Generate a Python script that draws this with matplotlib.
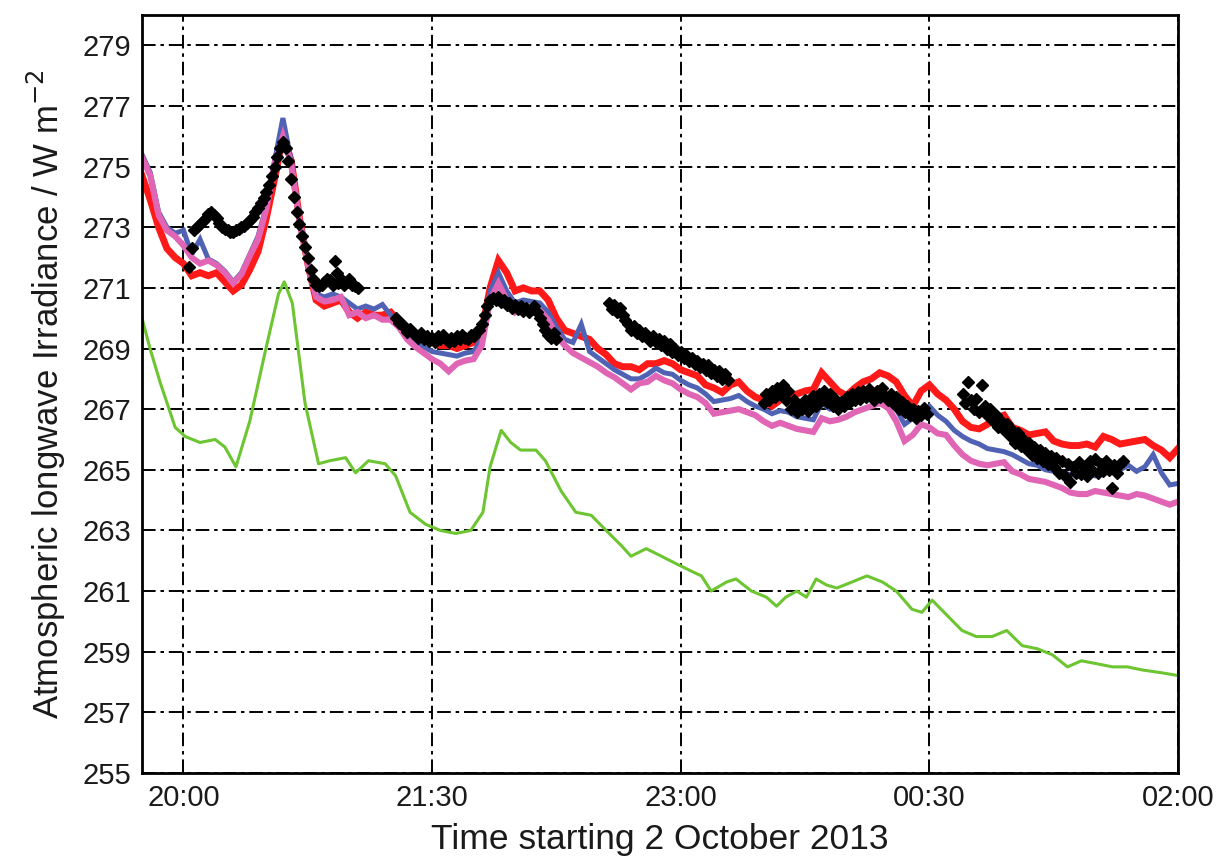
import numpy as np
import matplotlib
matplotlib.use("Agg")
import matplotlib.pyplot as plt

plt.rcParams['font.family'] = ['Liberation Sans', 'DejaVu Sans']

# ---- data (time in minutes after 19:45 on 2 October 2013) ----
x_tick_pos = [15, 105, 195, 285, 375]
x_tick_labels = ["20:00", "21:30", "23:00", "00:30", "02:00"]
y_ticks = [255, 257, 259, 261, 263, 265, 267, 269, 271, 273, 275, 277, 279]

t_lines = list(range(0, 376, 3))

red = [274.7, 273.9, 273.0, 272.3, 272.0, 271.8, 271.4, 271.5, 271.4, 271.5,
       271.2, 270.9, 271.1, 271.6, 272.2, 273.3, 274.6, 276.0, 275.2, 273.3,
       271.8, 270.6, 270.4, 270.5, 270.6, 270.2, 270.0, 270.2, 270.1, 270.1,
       270.2, 269.9, 269.7, 269.4, 269.3, 269.2, 269.1, 269.1, 269.0, 269.1,
       269.2, 269.6, 271.0, 271.9, 271.5, 270.9, 271.0, 270.9, 270.9, 270.6,
       270.0, 269.6, 269.5, 269.4, 269.3, 269.0, 268.8, 268.5, 268.4, 268.4,
       268.3, 268.5, 268.5, 268.6, 268.5, 268.3, 268.2, 268.1, 267.8, 267.7,
       267.55, 267.8, 267.9, 267.6, 267.4, 267.3, 267.1, 267.3, 267.45, 267.5,
       267.6, 267.65, 268.2, 267.9, 267.6, 267.45, 267.7, 267.9, 268.0, 268.2,
       268.1, 267.9, 267.45, 267.1, 267.6, 267.8, 267.5, 267.3, 267.0, 266.6,
       266.4, 266.35, 266.5, 266.7, 266.8, 266.4, 266.3, 266.15, 266.2, 266.25,
       265.95, 265.85, 265.8, 265.8, 265.85, 265.75, 266.1, 266.0, 265.85, 265.9,
       265.95, 266.0, 265.8, 265.65, 265.4, 265.7]

blue = [275.4, 274.8, 273.5, 273.0, 272.8, 272.9, 272.1, 272.6, 271.95, 271.8,
        271.55, 271.2, 271.5, 272.1, 272.7, 273.7, 275.2, 276.6, 275.2, 273.3,
        271.9, 270.8, 270.7, 270.8, 270.7, 270.5, 270.3, 270.4, 270.3, 270.45,
        270.1, 269.9, 269.5, 269.25, 269.05, 268.9, 268.85, 268.8, 268.75, 268.85,
        268.9, 269.3, 270.9, 271.5, 270.9, 270.5, 270.6, 270.55, 270.5, 270.2,
        269.7, 269.3, 269.2, 269.8, 268.9, 268.7, 268.5, 268.3, 268.15, 268.0,
        268.0, 268.15, 268.35, 268.2, 268.15, 267.95, 267.8, 267.7, 267.5, 267.25,
        267.3, 267.35, 267.45, 267.25, 267.1, 267.0, 266.85, 266.95, 266.9, 266.75,
        266.7, 266.65, 267.2, 267.0, 267.05, 267.1, 267.3, 267.4, 267.5, 267.6,
        267.45, 267.0, 266.5, 266.7, 266.9, 267.1, 266.8, 266.6, 266.3, 266.1,
        265.95, 265.85, 265.7, 265.65, 265.6, 265.5, 265.35, 265.2, 265.15, 265.0,
        264.95, 264.9, 264.85, 264.8, 264.85, 264.8, 264.9, 264.95, 265.0, 265.15,
        264.95, 265.1, 265.5, 264.9, 264.5, 264.55]

pink = [275.3, 274.7, 273.4, 272.9, 272.7, 272.4, 272.0, 271.8, 271.9, 271.75,
        271.5, 271.15, 271.45, 272.05, 272.6, 273.6, 275.1, 276.0, 275.1, 273.2,
        271.8, 270.7, 270.55, 270.6, 270.7, 270.1, 270.2, 270.0, 270.1, 269.95,
        269.95, 269.7, 269.3, 269.05, 268.85, 268.65, 268.5, 268.25, 268.5, 268.6,
        268.65, 269.1, 270.6, 271.15, 270.6, 270.2, 270.4, 270.3, 270.25, 269.95,
        269.45, 269.1, 268.85, 268.7, 268.55, 268.4, 268.2, 268.05, 267.85, 267.65,
        267.85, 267.9, 268.1, 267.95, 267.85, 267.65, 267.5, 267.4, 267.2, 266.85,
        266.9, 266.95, 267.0, 266.9, 266.8, 266.6, 266.45, 266.55, 266.45, 266.35,
        266.3, 266.25, 266.7, 266.6, 266.65, 266.75, 266.9, 267.0, 267.1, 267.2,
        267.05, 266.6, 265.95, 266.15, 266.5, 266.4, 266.2, 266.15, 265.8, 265.5,
        265.3, 265.2, 265.15, 265.2, 265.25, 264.95, 264.85, 264.7, 264.65, 264.6,
        264.5, 264.4, 264.25, 264.2, 264.2, 264.3, 264.25, 264.2, 264.15, 264.1,
        264.2, 264.15, 264.05, 263.95, 263.85, 263.95]

t_green = [0, 2.9, 6.5, 12, 15.6, 21, 26.5, 30, 34, 39, 44.6, 49.4, 51.5, 54.4,
           59, 63.9, 68, 73.7, 77.3, 82, 88, 91.8, 97, 102.7, 108, 113.6, 119,
           123.4, 126, 130, 133.5, 137, 142.6, 146, 151.7, 157, 162.6, 168, 173.5,
           177, 182.5, 188, 193.4, 199, 202.5, 206, 211.6, 215, 220.6, 226, 229.7,
           233, 237, 240.5, 244, 247.8, 251.5, 257, 262.4, 268, 273, 278.7, 282.3,
           286, 291.4, 296.8, 302, 307.7, 313, 318.6, 324, 329.5, 335, 340, 345.8,
           351.3, 356.7, 362, 369.4, 375.9]
green = [270.0, 269.0, 267.9, 266.4, 266.1, 265.9, 266.0, 265.75, 265.1, 266.6,
         268.9, 270.8, 271.2, 270.5, 267.2, 265.2, 265.3, 265.4, 264.9, 265.3,
         265.2, 264.8, 263.6, 263.2, 263.0, 262.9, 263.0, 263.6, 265.1, 266.3,
         265.9, 265.65, 265.65, 265.3, 264.3, 263.6, 263.5, 263.0, 262.5, 262.15,
         262.4, 262.15, 261.9, 261.65, 261.5, 261.0, 261.3, 261.4, 261.0, 260.8,
         260.5, 260.8, 261.0, 260.8, 261.4, 261.2, 261.1, 261.3, 261.5, 261.3,
         261.0, 260.4, 260.3, 260.7, 260.2, 259.7, 259.5, 259.5, 259.7, 259.2,
         259.1, 258.9, 258.5, 258.7, 258.6, 258.5, 258.5, 258.4, 258.3, 258.2]

t_black = (list(range(17, 70)) + [70, 70.5] + list(range(71, 79))
           + list(range(92, 151)) + list(range(169, 213))
           + list(range(225, 285)) + list(range(297, 356)))
black = [271.7, 272.3, 272.9, 273.0, 273.1, 273.2, 273.3, 273.45, 273.5, 273.4,
         273.3, 273.15, 273.0, 272.95, 272.9, 272.85, 272.85, 272.9, 272.95, 273.0,
         273.05, 273.15, 273.25, 273.35, 273.5, 273.65, 273.8, 273.95, 274.15, 274.4,
         274.7, 275.0, 275.3, 275.6, 275.8, 275.6, 275.2, 274.6, 274.0, 273.5,
         273.1, 272.7, 272.35, 272.0, 271.6, 271.3, 271.1, 271.05, 271.1, 271.2,
         271.3, 271.25, 271.1,
         271.9, 271.5,
         271.15, 271.3, 271.1, 271.2, 271.3, 271.1, 271.05, 271.0,
         270.0, 269.85, 269.8, 269.7, 269.55, 269.65, 269.5, 269.45, 269.35, 269.5,
         269.3, 269.4, 269.25, 269.35, 269.2, 269.4, 269.3, 269.45, 269.3, 269.2,
         269.35, 269.25, 269.4, 269.3, 269.45, 269.35, 269.3, 269.45, 269.4, 269.55,
         269.6, 269.8, 270.1, 270.4, 270.6, 270.65, 270.6, 270.7, 270.55, 270.6,
         270.45, 270.5, 270.35, 270.45, 270.3, 270.4, 270.25, 270.35, 270.2, 270.3,
         270.4, 270.2, 270.0, 269.8, 269.6, 269.45, 269.35, 269.5, 269.3,
         270.5, 270.3, 270.45, 270.2, 270.35, 270.1, 269.95, 269.8, 269.6, 269.75,
         269.5, 269.6, 269.4, 269.5, 269.35, 269.25, 269.4, 269.2, 269.3, 269.1,
         269.25, 269.0, 269.15, 268.9, 269.0, 268.8, 268.9, 268.7, 268.8, 268.6,
         268.7, 268.5, 268.6, 268.4, 268.5, 268.3, 268.45, 268.2, 268.3, 268.1,
         268.25, 268.0, 268.15, 267.95,
         267.2, 267.5, 267.3, 267.6, 267.4, 267.7, 267.5, 267.8, 267.3, 267.6,
         267.0, 267.3, 266.9, 267.15, 267.0, 267.3, 266.95, 267.2, 267.45, 267.1,
         267.5, 267.3, 267.6, 267.25, 267.5, 267.1, 267.35, 267.0, 267.25, 267.1,
         267.4, 267.2, 267.5, 267.3, 267.55, 267.35, 267.6, 267.4, 267.65, 267.45,
         267.3, 267.6, 267.4, 267.7, 267.45, 267.3, 267.5, 267.2, 267.4, 267.0,
         267.25, 266.9, 267.1, 266.8, 267.0, 266.7, 266.95, 266.8, 267.05, 266.85,
         267.5, 267.2, 267.9, 267.3, 267.0, 267.35, 266.9, 267.8, 267.1, 266.8,
         267.0, 266.6, 266.8, 266.4, 266.6, 266.3, 266.5, 266.1, 266.3, 265.9,
         266.2, 265.8, 266.0, 265.7, 265.9, 265.5, 265.75, 265.4, 265.65, 265.3,
         265.55, 265.2, 265.45, 265.1, 265.4, 264.9, 265.3, 264.8, 265.2, 264.6,
         265.1, 264.9, 265.25, 264.85, 265.1, 264.8, 265.3, 265.0, 265.35, 264.9,
         265.2, 264.95, 265.3, 265.0, 264.4, 265.15, 264.9, 265.2, 265.3]

# ---- figure ----
fig = plt.figure(figsize=(12.2, 8.61), dpi=100)
ax = fig.add_axes([0.1164, 0.1022, 0.8492, 0.8804])

ax.plot(t_lines, red, color='#ff1a1a', lw=5.0, zorder=3, solid_joinstyle='miter')
ax.plot(t_lines, blue, color='#5062b4', lw=3.6, zorder=4, solid_joinstyle='miter')
ax.plot(t_lines, pink, color='#e065b5', lw=4.4, zorder=5, solid_joinstyle='miter')
ax.plot(t_green, green, color='#6cc531', lw=2.2, zorder=5)
ax.plot(t_black, black, linestyle='none', marker='D', ms=5.8,
        color='black', zorder=6)

ax.set_xlim(0, 375)
ax.set_ylim(255, 280)
ax.set_xticks(x_tick_pos)
ax.set_xticklabels(x_tick_labels)
ax.set_yticks(y_ticks)

ax.grid(True, color='black', lw=1.4, linestyle=(0, (7, 2.5, 1.8, 2.5)), zorder=1)
ax.set_axisbelow(True)
ax.tick_params(axis='both', length=0, labelsize=21, pad=8, labelcolor='#1a1a1a')
for s in ax.spines.values():
    s.set_linewidth(2)
    s.set_color('black')
    s.set_zorder(10)

ax.set_xlabel('Time starting 2 October 2013', fontsize=25.5, labelpad=8, color='#1a1a1a')
ax.set_ylabel('Atmospheric longwave Irradiance / W m$^{-2}$', fontsize=25,
              labelpad=10, color='#1a1a1a')

fig.savefig('out.png', dpi=100)
